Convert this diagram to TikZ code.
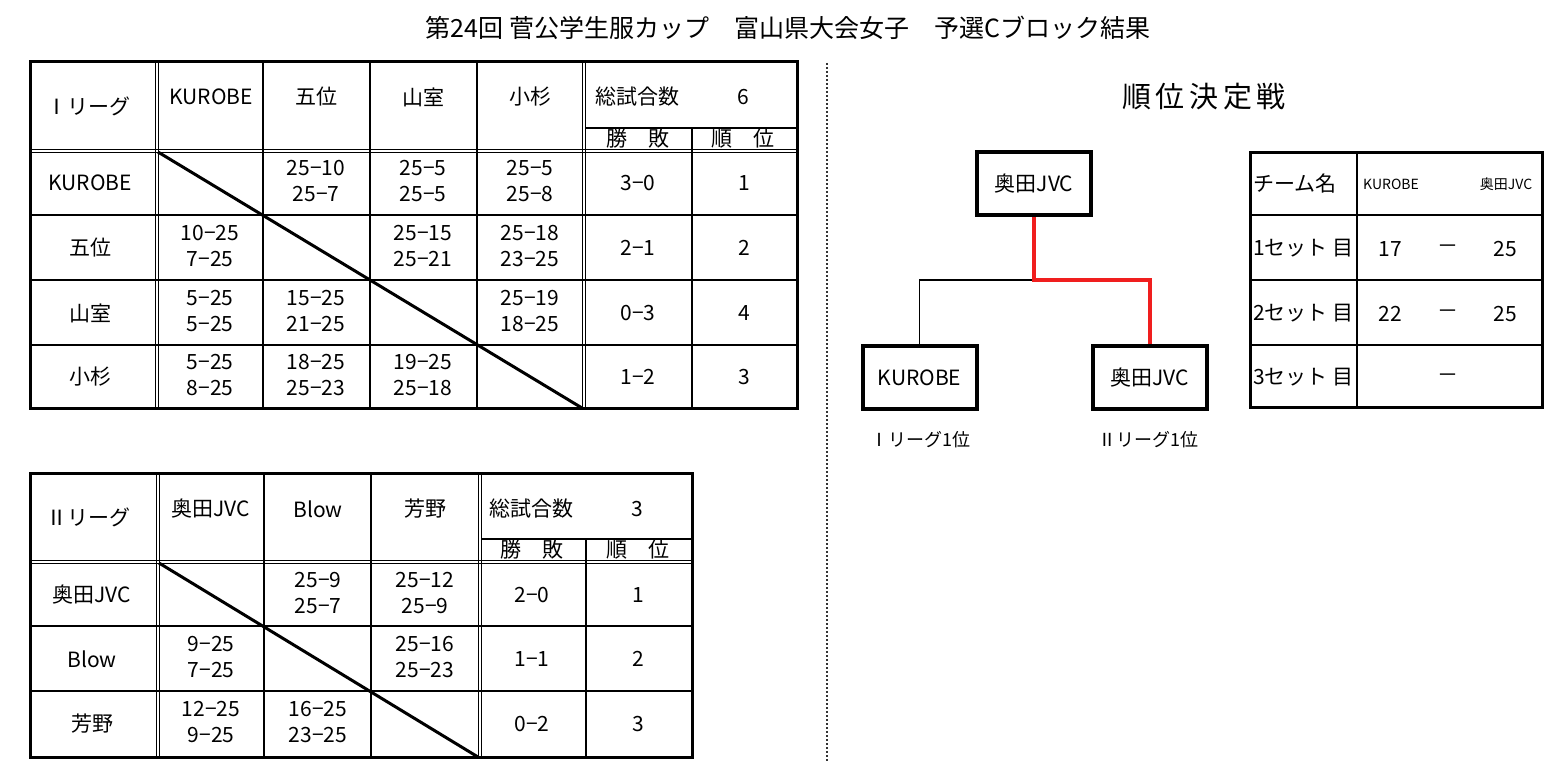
\documentclass[tikz,border=0pt]{standalone}
\usepackage{fontspec}
\setmainfont{Noto Sans CJK JP}
\newcommand\tfont{\fontsize{21}{26}\selectfont}
\newcommand\sfontx{\fontsize{18}{20}\selectfont}
\newcommand\tinyfontx{\fontsize{14}{16}\selectfont}
\definecolor{redline}{RGB}{240,30,30}
\begin{document}
\begin{tikzpicture}[x=1pt,y=-1pt,
  outer/.style={line width=3pt},
  inner/.style={line width=1.2pt},
  dline/.style={line width=1pt},
  diag/.style={line width=3pt},
  txt/.style={font=\tfont,inner sep=0pt,align=center},
  teambox/.style={draw,line width=4pt,minimum width=114pt,minimum height=63pt,font=\tfont,inner sep=0pt},
  sep/.style={line width=1.5pt,dash pattern=on 2pt off 2pt,black!80}]
\useasboundingbox (0,0) rectangle (1559,776);
% title
\node[inner sep=0pt,font=\fontsize{25}{28}\selectfont] (title) at (788,28) {第24回 菅公学生服カップ　富山県大会女子　予選Cブロック結果};
% separator
\coordinate (sepT) at (827,63);
\coordinate (sepB) at (827,762);
\draw[sep] (sepT) -- (sepB);

% ===== Table I =====
\draw[inner] (263,62) -- (263,408) (370,62) -- (370,408) (477,62) -- (477,408);
\draw[inner] (30,215) -- (797,215) (30,280) -- (797,280) (30,345) -- (797,345);
\draw[inner] (692,128) -- (692,408) (585,128) -- (797,128);
\draw[dline] (30,149) -- (797,149) (30,152) -- (797,152);
\draw[dline] (155,62) -- (155,408) (158,62) -- (158,408);
\draw[dline] (582,62) -- (582,408) (585,62) -- (585,408);
\draw[diag] (158,152) -- (582,408);
\draw[outer] (30,62) rectangle (797,408);

\node[txt] (l1) at (88,106) {Ⅰリーグ};
\node[txt] (h1a) at (211,97) {KUROBE};
\node[txt] (h1b) at (316,97) {五位};
\node[txt] (h1c) at (423,97) {山室};
\node[txt] (h1d) at (530,97) {小杉};
\node[txt] (g1) at (637,97) {総試合数};
\node[txt] (g1n) at (743,97) {6};
\node[txt] (wl1) at (638,139) {勝　敗};
\node[txt] (rk1) at (743,139) {順　位};
\foreach \n/\y/\t/\w/\r in {a/183/KUROBE/3−0/1, b/248/五位/2−1/2, c/313/山室/0−3/4, d/377/小杉/1−2/3}{
  \node[txt] (r1\n) at (90,\y) {\t};
  \node[txt] (w1\n) at (638,\y) {\w};
  \node[txt] (k1\n) at (744,\y) {\r};
}
\foreach \n/\x/\y/\s in {ab/316/181/{25−10\\25−7}, ac/423/181/{25−5\\25−5}, ad/530/181/{25−5\\25−8},
  ba/210/246/{10−25\\7−25}, bc/423/246/{25−15\\25−21}, bd/530/246/{25−18\\23−25},
  ca/210/311/{5−25\\5−25}, cb/316/311/{15−25\\21−25}, cd/530/311/{25−19\\18−25},
  da/210/375/{5−25\\8−25}, db/316/375/{18−25\\25−23}, dc/423/375/{19−25\\25−18}}{
  \node[txt] (s1\n) at (\x,\y) {\s};
}

% ===== Table II =====
\draw[inner] (264,473) -- (264,757) (371,473) -- (371,757);
\draw[inner] (30,626) -- (692,626) (30,691) -- (692,691);
\draw[inner] (586,539) -- (586,757) (481,539) -- (692,539);
\draw[dline] (30,560) -- (692,560) (30,563) -- (692,563);
\draw[dline] (156,473) -- (156,757) (159,473) -- (159,757);
\draw[dline] (478,473) -- (478,757) (481,473) -- (481,757);
\draw[diag] (159,563) -- (478,757);
\draw[outer] (30,473) rectangle (692,757);

\node[txt] (l2) at (88,517) {Ⅱリーグ};
\node[txt] (h2a) at (211,509) {奥田JVC};
\node[txt] (h2b) at (318,509) {Blow};
\node[txt] (h2c) at (425,509) {芳野};
\node[txt] (g2) at (531,509) {総試合数};
\node[txt] (g2n) at (637,509) {3};
\node[txt] (wl2) at (532,550) {勝　敗};
\node[txt] (rk2) at (638,550) {順　位};
\foreach \n/\y/\t/\w/\r in {a/595/奥田JVC/2−0/1, b/659/Blow/1−1/2, c/724/芳野/0−2/3}{
  \node[txt] (r2\n) at (92,\y) {\t};
  \node[txt] (w2\n) at (532,\y) {\w};
  \node[txt] (k2\n) at (638,\y) {\r};
}
\foreach \n/\x/\y/\s in {ab/318/593/{25−9\\25−7}, ac/425/593/{25−12\\25−9},
  ba/211/657/{9−25\\7−25}, bc/425/657/{25−16\\25−23},
  ca/211/722/{12−25\\9−25}, cb/318/722/{16−25\\23−25}}{
  \node[txt] (s2\n) at (\x,\y) {\s};
}

% ===== Bracket =====
\node[inner sep=0pt,font=\fontsize{29}{32}\selectfont\addfontfeature{LetterSpace=16}] (btitle) at (1204,97) {順位決定戦};
\node[teambox] (win) at (1034,183.5) {奥田JVC};
\node[teambox] (bl) at (919.5,377.5) {KUROBE};
\node[teambox] (br) at (1149.5,377.5) {奥田JVC};
\coordinate (j) at (1034,280);
\draw[line width=1.2pt] (j) -| (bl.north);
\draw[line width=4pt,redline] (win.south) -- (j) -| (br.north);
\node[inner sep=0pt,font=\sfontx] (bll) at (920,440) {Ⅰリーグ1位};
\node[inner sep=0pt,font=\sfontx] (brl) at (1148,440) {Ⅱリーグ1位};

% ===== Result table =====
\draw[inner] (1357,152) -- (1357,407);
\draw[inner] (1250,215) -- (1542,215) (1250,280) -- (1542,280) (1250,345) -- (1542,345);
\draw[outer] (1250,152) rectangle (1542,407);
\node[txt,anchor=west] (rt) at (1253,184) {チーム名};
\node[inner sep=0pt,font=\tinyfontx] (rka) at (1391,184) {KUROBE};
\node[inner sep=0pt,font=\tinyfontx] (rkb) at (1506,184) {奥田JVC};
\node[txt,anchor=west] (rs1) at (1253,248) {1セット 目};
\node[txt,anchor=west] (rs2) at (1253,313) {2セット 目};
\node[txt,anchor=west] (rs3) at (1253,377) {3セット 目};
\node[txt] (a1) at (1390,249) {17};
\node[txt] (d1) at (1448,249) {－};
\node[txt] (b1) at (1505,249) {25};
\node[txt] (a2) at (1390,314) {22};
\node[txt] (d2) at (1448,314) {－};
\node[txt] (b2) at (1505,314) {25};
\node[txt] (d3) at (1448,378) {－};
\end{tikzpicture}
\end{document}
